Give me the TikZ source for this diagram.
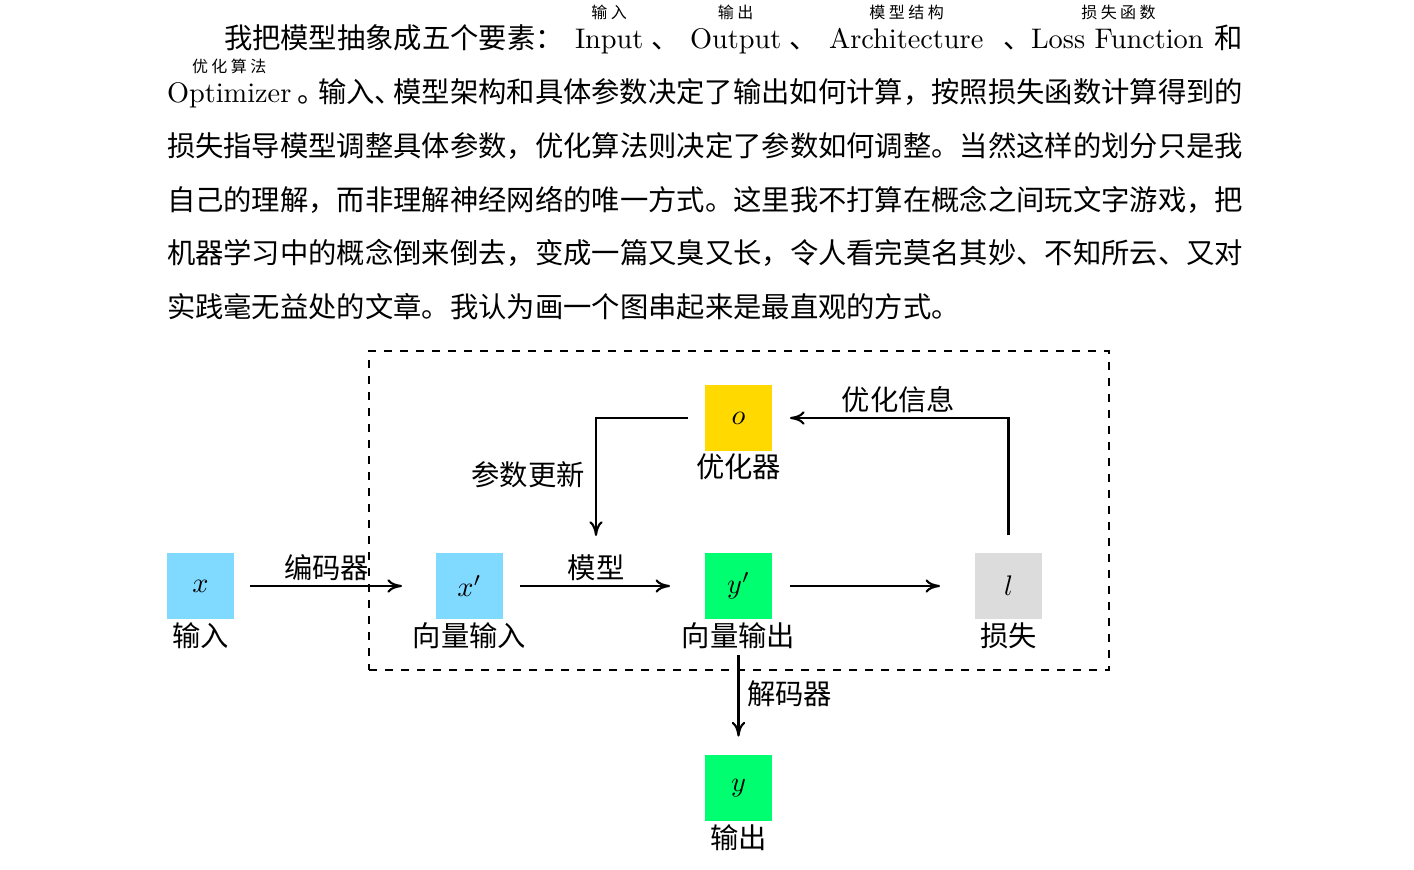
\RequirePackage{fix-cm}
\documentclass[tikz,border=0pt]{standalone}
\usepackage{fontspec}
\newfontfamily\cjk{Noto Sans CJK SC}
\usetikzlibrary{arrows.meta}

\definecolor{inblue}{RGB}{128,217,255}
\definecolor{optyellow}{RGB}{255,217,0}
\definecolor{outgreen}{RGB}{0,255,112}
\definecolor{lossgray}{RGB}{220,220,220}

\newcommand\bodysize{\fontsize{10.62pt}{13pt}\selectfont}

\tikzset{
  txt/.style={inner sep=0pt, outer sep=0pt, anchor=base west, font=\bodysize},
  cjktxt/.style={txt, font=\bodysize\cjk},
  ruby/.style={inner sep=0pt, outer sep=0pt, anchor=base, font=\fontsize{6pt}{7pt}\selectfont\cjk},
  cjklab/.style={inner sep=0pt, outer sep=0pt, anchor=base, font=\bodysize\cjk},
  sq/.style={minimum size=25.1pt, inner sep=0pt, outer sep=0pt, font=\bodysize},
  arr/.style={thick, -{To[length=5.5pt,width=5pt]}},
  modelbox/.style={draw, thick, dashed, minimum width=277.5pt, minimum height=119.6pt, inner sep=0pt, outer sep=0pt},
}

\begin{document}
\begin{tikzpicture}[x=0.375pt, y=-0.375pt]
\useasboundingbox (0,0) rectangle (1414,870);

% ---- paragraph, line by line ----
\node[cjktxt] (p1a) at (224,49) {我把模型抽象成五个要素：};
\node[txt] (w1) at (575,49) {Input};
\node[cjktxt] (s1) at (651,49) {、};
\node[txt] (w2) at (690,49) {Output};
\node[cjktxt] (s2) at (789,49) {、};
\node[txt] (w3) at (829,49) {Architecture};
\node[cjktxt] (s3) at (1003,49) {、};
\node[txt] (w4) at (1031,49) {Loss Function};
\node[cjktxt, anchor=base east] (p1b) at (1243,49) {和};

\node[ruby] (r1) at (609.2,19) {输\kern1.3pt 入};
\node[ruby] (r2) at (735.6,19) {输\kern1.3pt 出};
\node[ruby] (r3) at (906.6,19) {模\kern1.3pt 型\kern1.3pt 结\kern1.3pt 构};
\node[ruby] (r4) at (1118.5,19) {损\kern1.3pt 失\kern1.3pt 函\kern1.3pt 数};

\node[txt] (w5) at (167,102.7) {Optimizer};
\node[ruby] (r5) at (229.2,73) {优\kern1.3pt 化\kern1.3pt 算\kern1.3pt 法};
\node[cjktxt] (p2a) at (297,102.7) {。};
\node[cjktxt] (p2b) at (318,102.7) {输入、};
\node[cjktxt, anchor=base east] (p2c) at (1243,102.7) {模型架构和具体参数决定了输出如何计算，按照损失函数计算得到的};

\node[cjktxt] (p3) at (167,156.4) {损失指导模型调整具体参数，优化算法则决定了参数如何调整。当然这样的划分只是我};
\node[cjktxt] (p4) at (167,210.1) {自己的理解，而非理解神经网络的唯一方式。这里我不打算在概念之间玩文字游戏，把};
\node[cjktxt] (p5) at (167,263.8) {机器学习中的概念倒来倒去，变成一篇又臭又长，令人看完莫名其妙、不知所云、又对};
\node[cjktxt] (p6) at (167,317.5) {实践毫无益处的文章。我认为画一个图串起来是最直观的方式。};

% ---- diagram ----
\node[modelbox] (model) at (739,510.5) {};

\node[sq, fill=inblue] (x) at (200.5,586) {$x$};
\node[sq, fill=inblue] (xp) at (469.5,586) {$x'$};
\node[sq, fill=outgreen] (yp) at (738.5,586) {$y'$};
\node[sq, fill=lossgray] (l) at (1008.5,586) {$l$};
\node[sq, fill=optyellow] (o) at (738.5,418) {$o$};
\node[sq, fill=outgreen] (y) at (738.5,788) {$y$};

\node[cjklab] (xlab) at (200.5,646.8) {输入};
\node[cjklab] (xplab) at (469.5,646.8) {向量输入};
\node[cjklab] (yplab) at (738.5,646.8) {向量输出};
\node[cjklab] (llab) at (1008.5,646.8) {损失};
\node[cjklab] (olab) at (738.5,477.8) {优化器};
\node[cjklab] (ylab) at (738.5,848.8) {输出};

\coordinate (upd) at (596,553);

\draw[arr, shorten <=6pt, shorten >=12.75pt] (x) -- (xp);
\draw[arr, shorten <=6.4pt, shorten >=13.1pt] (xp) -- (yp);
\draw[arr, shorten <=6.75pt, shorten >=13.1pt] (yp) -- (l);
\draw[arr, shorten <=6.4pt, shorten >=6.75pt] (l.north) |- (o.east);
\draw[arr, shorten <=6.4pt, shorten >=6.4pt] (o.west) -| (upd);
\draw[arr, shorten <=13.5pt, shorten >=6.75pt] (yp.south) -- (y.north);

\node[cjklab] (enc) at (326.5,578.8) {编码器};
\node[cjklab] (mdl) at (596,578.8) {模型};
\node[cjklab] (optinfo) at (898.5,410.8) {优化信息};
\node[cjklab] (upd lab) at (528,485.8) {参数更新};
\node[cjklab] (dec) at (789.5,704.8) {解码器};
\end{tikzpicture}
\end{document}
